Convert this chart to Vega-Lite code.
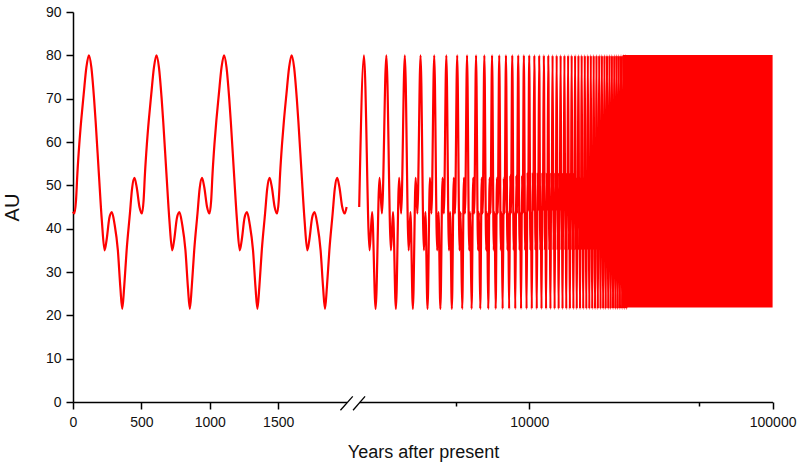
{
  "$schema": "https://vega.github.io/schema/vega-lite/v6.json",
  "autosize": "none",
  "width": 700,
  "height": 390,
  "padding": {"left": 73, "top": 12, "right": 27, "bottom": 62},
  "background": "white",
  "config": {
    "view": {"stroke": null},
    "axis": {
      "domainColor": "#000000", "domainWidth": 1.5,
      "tickColor": "#000000", "tickWidth": 1.5,
      "labelFont": "Liberation Sans", "labelFontSize": 14, "labelColor": "#111111", "labelFlush": false, "labelOverlap": false,
      "titleFont": "Liberation Sans", "titleFontSize": 18, "titleFontWeight": "normal", "titleColor": "#111111",
      "grid": false
    }
  },
  "datasets": {
    "L": [
      {"t":0,"au":43.9},{"t":10,"au":43.5},{"t":22,"au":46.5},{"t":32,"au":52.7},{"t":46,"au":59.5},{"t":60,"au":65},{"t":78,"au":71},{"t":98,"au":77.3},{"t":116,"au":80},{"t":134,"au":77.3},{"t":154,"au":70},{"t":166,"au":64.5},{"t":189,"au":52.7},{"t":211,"au":41.8},{"t":231,"au":35},{"t":246,"au":37.5},{"t":266,"au":42.5},{"t":284,"au":43.8},{"t":304,"au":41},{"t":328,"au":35},{"t":346,"au":26.5},{"t":360,"au":21.5},{"t":374,"au":26.5},{"t":392,"au":35},{"t":416,"au":43.5},{"t":432,"au":49.3},{"t":449,"au":51.7},{"t":466,"au":49.5},{"t":486,"au":45},{"t":504,"au":43.5},
      {"t":516,"au":46.5},{"t":526,"au":52.7},{"t":540,"au":59.5},{"t":554,"au":65},{"t":572,"au":71},{"t":592,"au":77.3},{"t":610,"au":80},{"t":628,"au":77.3},{"t":648,"au":70},{"t":660,"au":64.5},{"t":683,"au":52.7},{"t":705,"au":41.8},{"t":725,"au":35},{"t":740,"au":37.5},{"t":760,"au":42.5},{"t":778,"au":43.8},{"t":798,"au":41},{"t":822,"au":35},{"t":840,"au":26.5},{"t":854,"au":21.5},{"t":868,"au":26.5},{"t":886,"au":35},{"t":910,"au":43.5},{"t":926,"au":49.3},{"t":943,"au":51.7},{"t":960,"au":49.5},{"t":980,"au":45},{"t":998,"au":43.5},
      {"t":1010,"au":46.5},{"t":1020,"au":52.7},{"t":1034,"au":59.5},{"t":1048,"au":65},{"t":1066,"au":71},{"t":1086,"au":77.3},{"t":1104,"au":80},{"t":1122,"au":77.3},{"t":1142,"au":70},{"t":1154,"au":64.5},{"t":1177,"au":52.7},{"t":1199,"au":41.8},{"t":1219,"au":35},{"t":1234,"au":37.5},{"t":1254,"au":42.5},{"t":1272,"au":43.8},{"t":1292,"au":41},{"t":1316,"au":35},{"t":1334,"au":26.5},{"t":1348,"au":21.5},{"t":1362,"au":26.5},{"t":1380,"au":35},{"t":1404,"au":43.5},{"t":1420,"au":49.3},{"t":1437,"au":51.7},{"t":1454,"au":49.5},{"t":1474,"au":45},{"t":1492,"au":43.5},
      {"t":1504,"au":46.5},{"t":1514,"au":52.7},{"t":1528,"au":59.5},{"t":1542,"au":65},{"t":1560,"au":71},{"t":1580,"au":77.3},{"t":1598,"au":80},{"t":1616,"au":77.3},{"t":1636,"au":70},{"t":1648,"au":64.5},{"t":1671,"au":52.7},{"t":1693,"au":41.8},{"t":1713,"au":35},{"t":1728,"au":37.5},{"t":1748,"au":42.5},{"t":1766,"au":43.8},{"t":1786,"au":41},{"t":1810,"au":35},{"t":1828,"au":26.5},{"t":1842,"au":21.5},{"t":1856,"au":26.5},{"t":1874,"au":35},{"t":1898,"au":43.5},{"t":1914,"au":49.3},{"t":1931,"au":51.7},{"t":1948,"au":49.5},{"t":1968,"au":45},{"t":1986,"au":43.5},{"t":2000,"au":45}
    ],
    "R": [
      {"t":2000,"au":45},
      {"t":2092,"au":80},{"t":2207,"au":35},{"t":2260,"au":43.8},{"t":2336,"au":21.5},{"t":2425,"au":51.7},{"t":2480,"au":43.5},
      {"t":2586,"au":80},{"t":2701,"au":35},{"t":2754,"au":43.8},{"t":2830,"au":21.5},{"t":2919,"au":51.7},{"t":2974,"au":43.5},
      {"t":3080,"au":80},{"t":3195,"au":35},{"t":3248,"au":43.8},{"t":3324,"au":21.5},{"t":3413,"au":51.7},{"t":3468,"au":43.5},
      {"t":3574,"au":80},{"t":3689,"au":35},{"t":3742,"au":43.8},{"t":3818,"au":21.5},{"t":3907,"au":51.7},{"t":3962,"au":43.5},
      {"t":4068,"au":80},{"t":4183,"au":35},{"t":4236,"au":43.8},{"t":4312,"au":21.5},{"t":4401,"au":51.7},{"t":4456,"au":43.5},
      {"t":4562,"au":80},{"t":4677,"au":35},{"t":4730,"au":43.8},{"t":4806,"au":21.5},{"t":4895,"au":51.7},{"t":4950,"au":43.5},
      {"t":5056,"au":80},{"t":5171,"au":35},{"t":5224,"au":43.8},{"t":5300,"au":21.5},{"t":5389,"au":51.7},{"t":5444,"au":43.5},
      {"t":5550,"au":80},{"t":5665,"au":35},{"t":5718,"au":43.8},{"t":5794,"au":21.5},{"t":5883,"au":51.7},{"t":5938,"au":43.5},
      {"t":6044,"au":80},{"t":6159,"au":35},{"t":6212,"au":43.8},{"t":6288,"au":21.5},{"t":6377,"au":51.7},{"t":6432,"au":43.5},
      {"t":6538,"au":80},{"t":6653,"au":35},{"t":6706,"au":43.8},{"t":6782,"au":21.5},{"t":6871,"au":51.7},{"t":6926,"au":43.5},
      {"t":7032,"au":80},{"t":7147,"au":35},{"t":7200,"au":43.8},{"t":7276,"au":21.5},{"t":7365,"au":51.7},{"t":7420,"au":43.5},
      {"t":7526,"au":80},{"t":7641,"au":35},{"t":7694,"au":43.8},{"t":7770,"au":21.5},{"t":7859,"au":51.7},{"t":7914,"au":43.5},
      {"t":8020,"au":80},{"t":8135,"au":35},{"t":8188,"au":43.8},{"t":8264,"au":21.5},{"t":8353,"au":52.3},{"t":8408,"au":43.5},
      {"t":8514,"au":80},{"t":8629,"au":35},{"t":8682,"au":43.8},{"t":8758,"au":21.5},{"t":8847,"au":52.3},{"t":8902,"au":43.5},
      {"t":9008,"au":80},{"t":9123,"au":35},{"t":9176,"au":43.8},{"t":9252,"au":21.5},{"t":9341,"au":52.3},{"t":9396,"au":43.5},
      {"t":9502,"au":80},{"t":9617,"au":35},{"t":9670,"au":43.8},{"t":9746,"au":21.5},{"t":9835,"au":53},{"t":9890,"au":44},
      {"t":9996,"au":80},{"t":10111,"au":35},{"t":10164,"au":43.8},{"t":10240,"au":21.5},{"t":10329,"au":53},{"t":10384,"au":44},
      {"t":10490,"au":80},{"t":10605,"au":35},{"t":10658,"au":43.8},{"t":10734,"au":21.5},{"t":10823,"au":53},{"t":10878,"au":44},
      {"t":10984,"au":80},{"t":11099,"au":35},{"t":11152,"au":43.8},{"t":11228,"au":21.5},{"t":11317,"au":53},{"t":11372,"au":44},
      {"t":11478,"au":80},{"t":11593,"au":35},{"t":11646,"au":43.8},{"t":11722,"au":21.5},{"t":11811,"au":53},{"t":11866,"au":44},
      {"t":11972,"au":80},{"t":12087,"au":35},{"t":12140,"au":43.8},{"t":12216,"au":21.5},{"t":12305,"au":53},{"t":12360,"au":44},
      {"t":12466,"au":80},{"t":12581,"au":35},{"t":12634,"au":43.8},{"t":12710,"au":21.5},{"t":12799,"au":53},{"t":12854,"au":44},
      {"t":12960,"au":80},{"t":13075,"au":35},{"t":13128,"au":43.8},{"t":13204,"au":21.5},{"t":13293,"au":53},{"t":13348,"au":44},
      {"t":13454,"au":80},{"t":13569,"au":35},{"t":13622,"au":43.8},{"t":13698,"au":21.5},{"t":13787,"au":53},{"t":13842,"au":44},
      {"t":13948,"au":80},{"t":14063,"au":35},{"t":14116,"au":43.8},{"t":14192,"au":21.5},{"t":14281,"au":53},{"t":14336,"au":44},
      {"t":14442,"au":80},{"t":14557,"au":35},{"t":14610,"au":43.8},{"t":14686,"au":21.5},{"t":14775,"au":53},{"t":14830,"au":44},
      {"t":14936,"au":80},{"t":15051,"au":35},{"t":15104,"au":43.8},{"t":15180,"au":21.5},{"t":15269,"au":53},{"t":15324,"au":44},
      {"t":15430,"au":80},{"t":15545,"au":35},{"t":15598,"au":43.8},{"t":15674,"au":21.5},{"t":15763,"au":52},{"t":15818,"au":43.5},
      {"t":15924,"au":80},{"t":16039,"au":35},{"t":16092,"au":43.8},{"t":16168,"au":21.5},{"t":16257,"au":52},{"t":16312,"au":43.5},
      {"t":16418,"au":80},{"t":16533,"au":35},{"t":16586,"au":43.8},{"t":16662,"au":21.5},{"t":16751,"au":52},{"t":16806,"au":43.5},
      {"t":16912,"au":80},{"t":17027,"au":35},{"t":17080,"au":43.8},{"t":17156,"au":21.5},{"t":17245,"au":52},{"t":17300,"au":43.5},
      {"t":17406,"au":80},{"t":17521,"au":35},{"t":17574,"au":43.8},{"t":17650,"au":21.5},{"t":17739,"au":50.5},{"t":17794,"au":43.5},
      {"t":17900,"au":80},{"t":18015,"au":35},{"t":18068,"au":43.8},{"t":18144,"au":21.5},{"t":18233,"au":50.5},{"t":18288,"au":43.5},
      {"t":18394,"au":80},{"t":18509,"au":35},{"t":18562,"au":43.8},{"t":18638,"au":21.5},{"t":18727,"au":50.5},{"t":18782,"au":43.5},
      {"t":18888,"au":80},{"t":19003,"au":35},{"t":19056,"au":43.8},{"t":19132,"au":21.5},{"t":19221,"au":50.5},{"t":19276,"au":43.5},
      {"t":19382,"au":80},{"t":19497,"au":35},{"t":19550,"au":43.8},{"t":19626,"au":21.5},{"t":19715,"au":50.5},{"t":19770,"au":43.5},
      {"t":19876,"au":80},{"t":19991,"au":35},{"t":20044,"au":43.8},{"t":20120,"au":21.5},{"t":20209,"au":50.5},{"t":20264,"au":43.5},
      {"t":20370,"au":80},{"t":20485,"au":35},{"t":20538,"au":43.8},{"t":20614,"au":21.5},{"t":20703,"au":50.5},{"t":20758,"au":43.5},
      {"t":20864,"au":80},{"t":20979,"au":35},{"t":21032,"au":43.8},{"t":21108,"au":21.5},{"t":21197,"au":50.5},{"t":21252,"au":43.5},
      {"t":21358,"au":80},{"t":21473,"au":35},{"t":21526,"au":43.8},{"t":21602,"au":21.5},{"t":21691,"au":50.5},{"t":21746,"au":43.5},
      {"t":21852,"au":80},{"t":21967,"au":35},{"t":22020,"au":43.8},{"t":22096,"au":21.5},{"t":22185,"au":50.5},{"t":22240,"au":43.5},
      {"t":22346,"au":80},{"t":22461,"au":35},{"t":22514,"au":43.8},{"t":22590,"au":21.5},{"t":22679,"au":50.5},{"t":22734,"au":43.5},
      {"t":22840,"au":80},{"t":22955,"au":35},{"t":23008,"au":43.8},{"t":23084,"au":21.5},{"t":23173,"au":50.5},{"t":23228,"au":43.5},
      {"t":23334,"au":80},{"t":23449,"au":35},{"t":23502,"au":43.8},{"t":23578,"au":21.5},{"t":23667,"au":50.5},{"t":23722,"au":43.5},
      {"t":23828,"au":80},{"t":23943,"au":35},{"t":23996,"au":43.8},{"t":24072,"au":21.5},{"t":24161,"au":50.5},{"t":24216,"au":43.5},
      {"t":24322,"au":80},{"t":24437,"au":35},{"t":24490,"au":43.8},{"t":24566,"au":21.5},{"t":24655,"au":50.5},{"t":24710,"au":43.5},
      {"t":24816,"au":80},{"t":24931,"au":35},{"t":24984,"au":43.8},{"t":25060,"au":21.5},{"t":25149,"au":50.5},{"t":25204,"au":43.5}
    ],
    "band": [
      {"t":24200,"lo":21.8,"hi":80.1},
      {"t":100000,"lo":21.8,"hi":80.1}
    ],
    "brkL": [{"t":1955,"t2":2045,"au":-1.9,"au2":1.3}],
    "brkR": [{"t":1887,"t2":2114,"au":-1.9,"au2":1.3}]
  },
  "resolve": {"scale": {"x": "independent"}, "axis": {"x": "independent"}},
  "layer": [
    {
      "layer": [
        {
          "data": {"name": "L"},
          "mark": {"type": "line", "color": "#ff0000", "strokeWidth": 2.2, "interpolate": "monotone", "clip": false},
          "encoding": {
            "x": {
              "field": "t", "type": "quantitative",
              "scale": {"type": "linear", "domain": [0, 2000], "range": [0, 273.6], "nice": false, "zero": false},
              "axis": {
                "orient": "bottom", "values": [0, 500, 1000, 1500], "format": "d", "tickSize": 7, "labelPadding": 6,
                "title": "Years after present", "titleX": 350, "titleY": 55, "titleAlign": "center", "titleBaseline": "alphabetic", "titleAnchor": null
              }
            },
            "y": {
              "field": "au", "type": "quantitative",
              "scale": {"domain": [0, 90], "nice": false, "zero": false},
              "axis": {
                "values": [0,5,10,15,20,25,30,35,40,45,50,55,60,65,70,75,80,85,90],
                "labelExpr": "datum.value % 10 == 0 ? datum.label : ''",
                "tickSize": {"condition": {"test": "datum.value % 10 != 0", "value": 4}, "value": 7},
                "labelPadding": 5,
                "title": "AU", "titleFontSize": 20, "titleX": -55, "titleY": 195, "titleAngle": 270, "titleAlign": "center", "titleBaseline": "alphabetic", "titleAnchor": null
              }
            }
          }
        },
        {
          "data": {"name": "brkL"},
          "mark": {"type": "rule", "color": "#000000", "strokeWidth": 1.3, "clip": false},
          "encoding": {
            "x": {"field": "t", "type": "quantitative"},
            "x2": {"field": "t2"},
            "y": {"field": "au", "type": "quantitative"},
            "y2": {"field": "au2"}
          }
        }
      ]
    },
    {
      "layer": [
        {
          "data": {"name": "band"},
          "mark": {"type": "area", "color": "#ff0000", "opacity": 1, "clip": false},
          "encoding": {
            "x": {
              "field": "t", "type": "quantitative",
              "scale": {"type": "log", "domain": [2000, 100000], "range": [286.2, 699.6], "nice": false},
              "axis": {
                "orient": "bottom", "values": [5000, 10000, 50000, 100000],
                "labelExpr": "datum.value == 10000 || datum.value == 100000 ? datum.value : ''",
                "tickSize": {"condition": {"test": "datum.value == 5000 || datum.value == 50000", "value": 4}, "value": 7},
                "labelPadding": 6, "title": null
              }
            },
            "y": {"field": "lo", "type": "quantitative"},
            "y2": {"field": "hi"}
          }
        },
        {
          "data": {"name": "R"},
          "mark": {"type": "line", "color": "#ff0000", "strokeWidth": 2.2, "interpolate": "monotone", "clip": false},
          "encoding": {
            "x": {"field": "t", "type": "quantitative"},
            "y": {"field": "au", "type": "quantitative"}
          }
        },
        {
          "data": {"name": "brkR"},
          "mark": {"type": "rule", "color": "#000000", "strokeWidth": 1.3, "clip": false},
          "encoding": {
            "x": {"field": "t", "type": "quantitative"},
            "x2": {"field": "t2"},
            "y": {"field": "au", "type": "quantitative"},
            "y2": {"field": "au2"}
          }
        }
      ]
    }
  ]
}
